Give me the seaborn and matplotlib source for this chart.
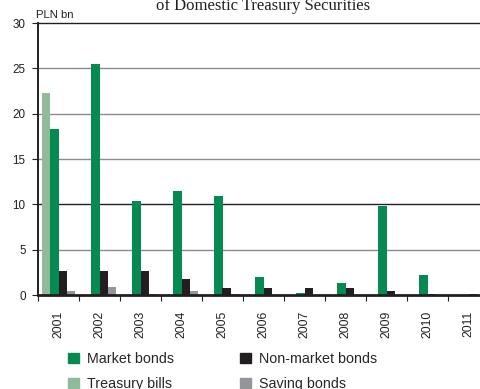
import matplotlib
matplotlib.use("Agg")
import matplotlib.pyplot as plt
import seaborn as sns
import pandas as pd
import numpy as np

years = ["2001", "2002", "2003", "2004", "2005", "2006", "2007", "2008", "2009", "2010", "2011"]
treasury_bills = [22.3, 0, 0, 0, 0, 0, 0, 0, 0, 0, 0]
market_bonds = [18.3, 25.5, 10.4, 11.5, 10.9, 2.0, 0.2, 1.3, 9.8, 2.2, 0.0]
non_market_bonds = [2.6, 2.6, 2.6, 1.8, 0.8, 0.8, 0.8, 0.8, 0.4, 0.1, 0.1]
saving_bonds = [0.4, 0.85, 0.1, 0.4, 0.1, 0.05, 0.05, 0.05, 0.05, 0.05, 0.05]

series_names = ["Treasury bills", "Market bonds", "Non-market bonds", "Saving bonds"]
palette = {
    "Treasury bills": "#8fbb9b",
    "Market bonds": "#078a52",
    "Non-market bonds": "#231f20",
    "Saving bonds": "#939598",
}

df = pd.DataFrame({
    "year": years * 4,
    "series": np.repeat(series_names, len(years)),
    "value": treasury_bills + market_bonds + non_market_bonds + saving_bonds,
})

sns.set_style("white")
plt.rcParams["font.family"] = ["Liberation Sans", "DejaVu Sans"]

fig = plt.figure(figsize=(4.8, 3.89), dpi=100)
ax = fig.add_axes([38 / 480, 1 - 295 / 389, 451 / 480, 272 / 389])

sns.barplot(data=df, x="year", y="value", hue="series", hue_order=series_names,
            palette=palette, width=0.8, gap=0, saturation=1, linewidth=0,
            ax=ax, legend=False, zorder=3)

ax.set_xlim(-0.5, len(years) - 0.5)
ax.set_ylim(0, 30)
ax.set_yticks(range(0, 31, 5))
ax.set_xlabel("")
ax.set_ylabel("")

# horizontal grid lines
for v in range(5, 30, 5):
    ax.axhline(v, color="#231f20" if v == 10 else "#8c8c8c", lw=1.0, zorder=1)

ax.spines["right"].set_visible(False)
ax.spines["top"].set_color("#231f20")
ax.spines["top"].set_linewidth(1.0)
ax.spines["left"].set_color("#231f20")
ax.spines["left"].set_linewidth(1.4)
ax.spines["bottom"].set_color("#231f20")
ax.spines["bottom"].set_linewidth(2.0)
ax.spines["bottom"].set_zorder(4)

ax.tick_params(axis="y", left=True, length=4, width=0.8, color="#231f20",
               labelsize=8.4, labelcolor="#231f20", pad=5)
ax.set_xticks(range(len(years)))
ax.set_xticklabels(years, rotation=90)
ax.tick_params(axis="x", which="major", bottom=False, labelsize=8.8,
               labelcolor="#231f20", pad=8)
ax.set_xticks(np.arange(-0.5, len(years), 1.0), minor=True)
ax.tick_params(axis="x", which="minor", bottom=True, length=4, width=0.8,
               color="#231f20")

fig.text(36 / 480, 1 - 18 / 389, "PLN bn", fontsize=8.2, color="#231f20",
         ha="left", va="baseline")
fig.text(263 / 480, 1 - 10 / 389, "of Domestic Treasury Securities",
         fontsize=12, family=["Liberation Serif", "DejaVu Serif"],
         color="#231f20", ha="center", va="baseline")

# legend in two columns below the axes
legend_order = ["Market bonds", "Treasury bills", "Non-market bonds", "Saving bonds"]
handles = [plt.Rectangle((0, 0), 1, 1, color=palette[n]) for n in legend_order]
fig.legend(handles, legend_order, ncol=2, loc="upper left",
           bbox_to_anchor=(68 / 480, 1 - 352 / 389), frameon=False,
           fontsize=10.3, handlelength=0.75, handleheight=0.75,
           handletextpad=0.6, columnspacing=4.6, labelspacing=0.75,
           borderpad=0, borderaxespad=0)

fig.savefig("out.png", dpi=100)
